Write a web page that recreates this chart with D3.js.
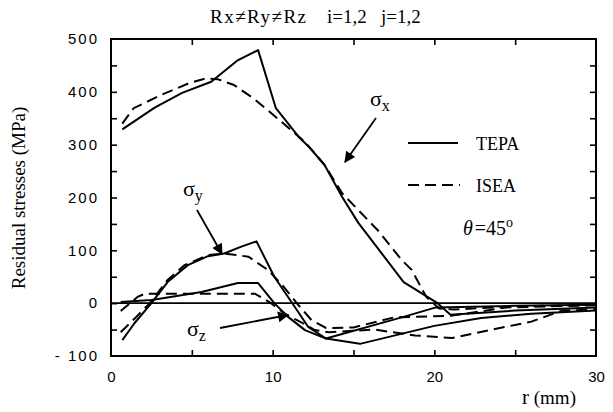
<!DOCTYPE html>
<html><head><meta charset="utf-8">
<script src="https://cdn.jsdelivr.net/npm/d3@7"></script>
<style>body{margin:0;background:#fff}svg{display:block}</style>
</head><body>
<svg id="c" width="613" height="412"></svg>
<script>
// ---- data (r in mm, stress in MPa) ----
const xTickLabels=[0,10,20,30];
const xMinorTicks=[5,10,15,20,25];
const yTickLabels=[500,400,300,200,100,0,-100];
const yMinorTicks=[-50,0,50,100,150,200,250,300,350,400,450];

const sigmaX_TEPA=[[0.7,329],[2.7,370],[4.4,398],[6.2,419],[7.8,459],[9.1,479],[10.2,369],[11.6,315],[12.3,294],[13.2,262],[14.3,201],[15.3,152],[18.1,40],[20.2,0],[21.0,-22],[25,-14],[30,-8]];
const sigmaX_ISEA=[[0.7,340],[1.4,369],[3.1,394],[4.8,416],[5.8,425],[6.6,424],[7.6,413],[8.8,388],[9.9,360],[10.9,334],[12.0,305],[13.2,262],[14.3,208],[16.5,138],[18.0,81],[18.6,63],[19.5,12],[20.3,-10],[21.2,-12],[25,-6],[30,-3]];
const sigmaY_TEPA=[[0.7,-70],[1.45,-38],[2.5,0],[3.5,40],[4.75,72],[6.0,89],[7.0,94],[8.06,107],[9.0,117],[10.1,50],[11.3,-4],[12.2,-45],[13.3,-67],[18.2,-25],[20.1,-8],[25,-5],[30,-3]];
const sigmaY_ISEA=[[0.6,-55],[1.5,-28],[2.4,0],[3.5,44],[4.55,72],[6.0,91],[7.0,94],[8.5,88],[9.7,63],[10.6,34],[11.6,-4],[12.4,-32],[13.3,-47],[15.0,-46],[17.5,-27],[21.0,-24],[24.5,-8],[30,-4]];
const sigmaZ_TEPA=[[0.6,2],[2.5,6],[3.1,9],[5.6,21],[7.85,38],[9.1,38],[10.1,0],[10.95,-26],[12.0,-51],[13.3,-67],[15.4,-77],[20,-43],[22.9,-28],[26,-20],[30,-14]];
const sigmaZ_ISEA=[[0.6,-15],[1.65,12],[2.1,18],[8.9,18],[9.9,0],[10.75,-20],[12.0,-40],[12.6,-51],[13.5,-55],[16.3,-50],[18.8,-61],[21.1,-66],[23.4,-51],[26,-35],[27.9,-14],[30,-12]];

const seriesTEPA=[sigmaX_TEPA,sigmaY_TEPA,sigmaZ_TEPA];
const seriesISEA=[sigmaX_ISEA,sigmaY_ISEA,sigmaZ_ISEA];

// ---- drawing ----
const svg=d3.select("#c");
const L=111,R=596,T=39,B=356;
const x=d3.scaleLinear().domain([0,30]).range([L,R]);
const y=d3.scaleLinear().domain([-100,500]).range([B,T]);

svg.append("defs").append("marker").attr("id","ah").attr("viewBox","0 0 10 10")
  .attr("refX",9).attr("refY",5).attr("markerWidth",15).attr("markerHeight",11)
  .attr("markerUnits","userSpaceOnUse").attr("orient","auto")
  .append("path").attr("d","M0,0 L10,5 L0,10 Z").attr("fill","#000");

const serif="'Liberation Serif','DejaVu Serif',serif";
const sans="'Liberation Sans',sans-serif";

// frame
svg.append("rect").attr("x",L).attr("y",T).attr("width",R-L).attr("height",B-T)
  .attr("fill","none").attr("stroke","#000").attr("stroke-width",2);

// inward ticks
const tk=6;
function ticks(axis,tr){
  svg.append("g").attr("transform",tr).call(axis.tickSize(-tk).tickFormat(""))
    .call(g=>g.select(".domain").remove()).selectAll("line").attr("stroke-width",1.6);
}
ticks(d3.axisBottom(x).tickValues(xMinorTicks),`translate(0,${B})`);
ticks(d3.axisTop(x).tickValues(xMinorTicks),`translate(0,${T})`);
ticks(d3.axisLeft(y).tickValues(yMinorTicks),`translate(${L},0)`);
ticks(d3.axisRight(y).tickValues(yMinorTicks),`translate(${R},0)`);

// tick labels
const xl=svg.append("g").attr("transform",`translate(0,${B})`)
  .call(d3.axisBottom(x).tickValues(xTickLabels).tickSize(0).tickPadding(15));
xl.select(".domain").remove();
xl.selectAll("text").attr("font-family",sans).attr("font-size",15).attr("fill","#000");
const yl=svg.append("g").attr("transform",`translate(${L},0)`)
  .call(d3.axisLeft(y).tickValues(yTickLabels).tickSize(0).tickPadding(12)
    .tickFormat(d=>d<0?"- "+Math.abs(d):String(d)));
yl.select(".domain").remove();
yl.selectAll("text").attr("font-family",sans).attr("font-size",15).attr("fill","#000")
  .attr("letter-spacing","2px");

// zero line
svg.append("line").attr("x1",L).attr("x2",R).attr("y1",y(0)).attr("y2",y(0))
  .attr("stroke","#000").attr("stroke-width",1.8);

// curves
const line=d3.line().x(d=>x(d[0])).y(d=>y(d[1]));
svg.append("g").selectAll("path").data(seriesTEPA).join("path")
  .attr("d",line).attr("fill","none").attr("stroke","#000").attr("stroke-width",2)
  .attr("stroke-linejoin","round");
svg.append("g").selectAll("path").data(seriesISEA).join("path")
  .attr("d",line).attr("fill","none").attr("stroke","#000").attr("stroke-width",2)
  .attr("stroke-dasharray","11,6");

// legend
svg.append("line").attr("x1",408).attr("x2",458).attr("y1",143).attr("y2",143)
  .attr("stroke","#000").attr("stroke-width",2);
svg.append("line").attr("x1",408).attr("x2",460).attr("y1",185).attr("y2",185)
  .attr("stroke","#000").attr("stroke-width",2).attr("stroke-dasharray","11,6");
svg.append("text").attr("x",476).attr("y",150).attr("font-family",serif).attr("font-size",18).text("TEPA");
svg.append("text").attr("x",476).attr("y",192).attr("font-family",serif).attr("font-size",18).text("ISEA");

// theta
const th=svg.append("text").attr("x",463).attr("y",235).attr("font-family",serif).attr("font-size",20);
th.append("tspan").attr("font-style","italic").text("θ");
th.append("tspan").attr("dx",2).text("=45");
th.append("tspan").attr("dy",-8).attr("font-size",14).text("o");

// sigma labels
function sig(px,py,sub){
  const t=svg.append("text").attr("x",px).attr("y",py).attr("font-family",serif).attr("font-size",22);
  t.append("tspan").text("σ");
  t.append("tspan").attr("dy",5).attr("font-size",16).text(sub);
}
sig(370,106,"x");
sig(183,196,"y");
sig(187,336,"z");

// arrows
function arrow(x1,y1,x2,y2){
  svg.append("line").attr("x1",x1).attr("y1",y1).attr("x2",x2).attr("y2",y2)
    .attr("stroke","#000").attr("stroke-width",1.8).attr("marker-end","url(#ah)");
}
arrow(376,118,345,162);
arrow(197,210,222,254);
arrow(220,328,288,315);

// title & axis titles
const ti=svg.append("text").attr("y",23).attr("font-family",serif).attr("font-size",19);
ti.append("tspan").attr("x",210).attr("letter-spacing","1.5px").text("Rx≠Ry≠Rz");
ti.append("tspan").attr("x",327).text("i=1,2");
ti.append("tspan").attr("x",381).text("j=1,2");
svg.append("text").attr("transform","translate(25,198) rotate(-90)").attr("text-anchor","middle")
  .attr("font-family",serif).attr("font-size",19).text("Residual stresses (MPa)");
const rt=svg.append("text").attr("x",522).attr("y",404).attr("font-family",serif).attr("font-size",19);
rt.append("tspan").attr("font-size",21).text("r");
rt.append("tspan").text(" (mm)");
</script>
</body></html>
